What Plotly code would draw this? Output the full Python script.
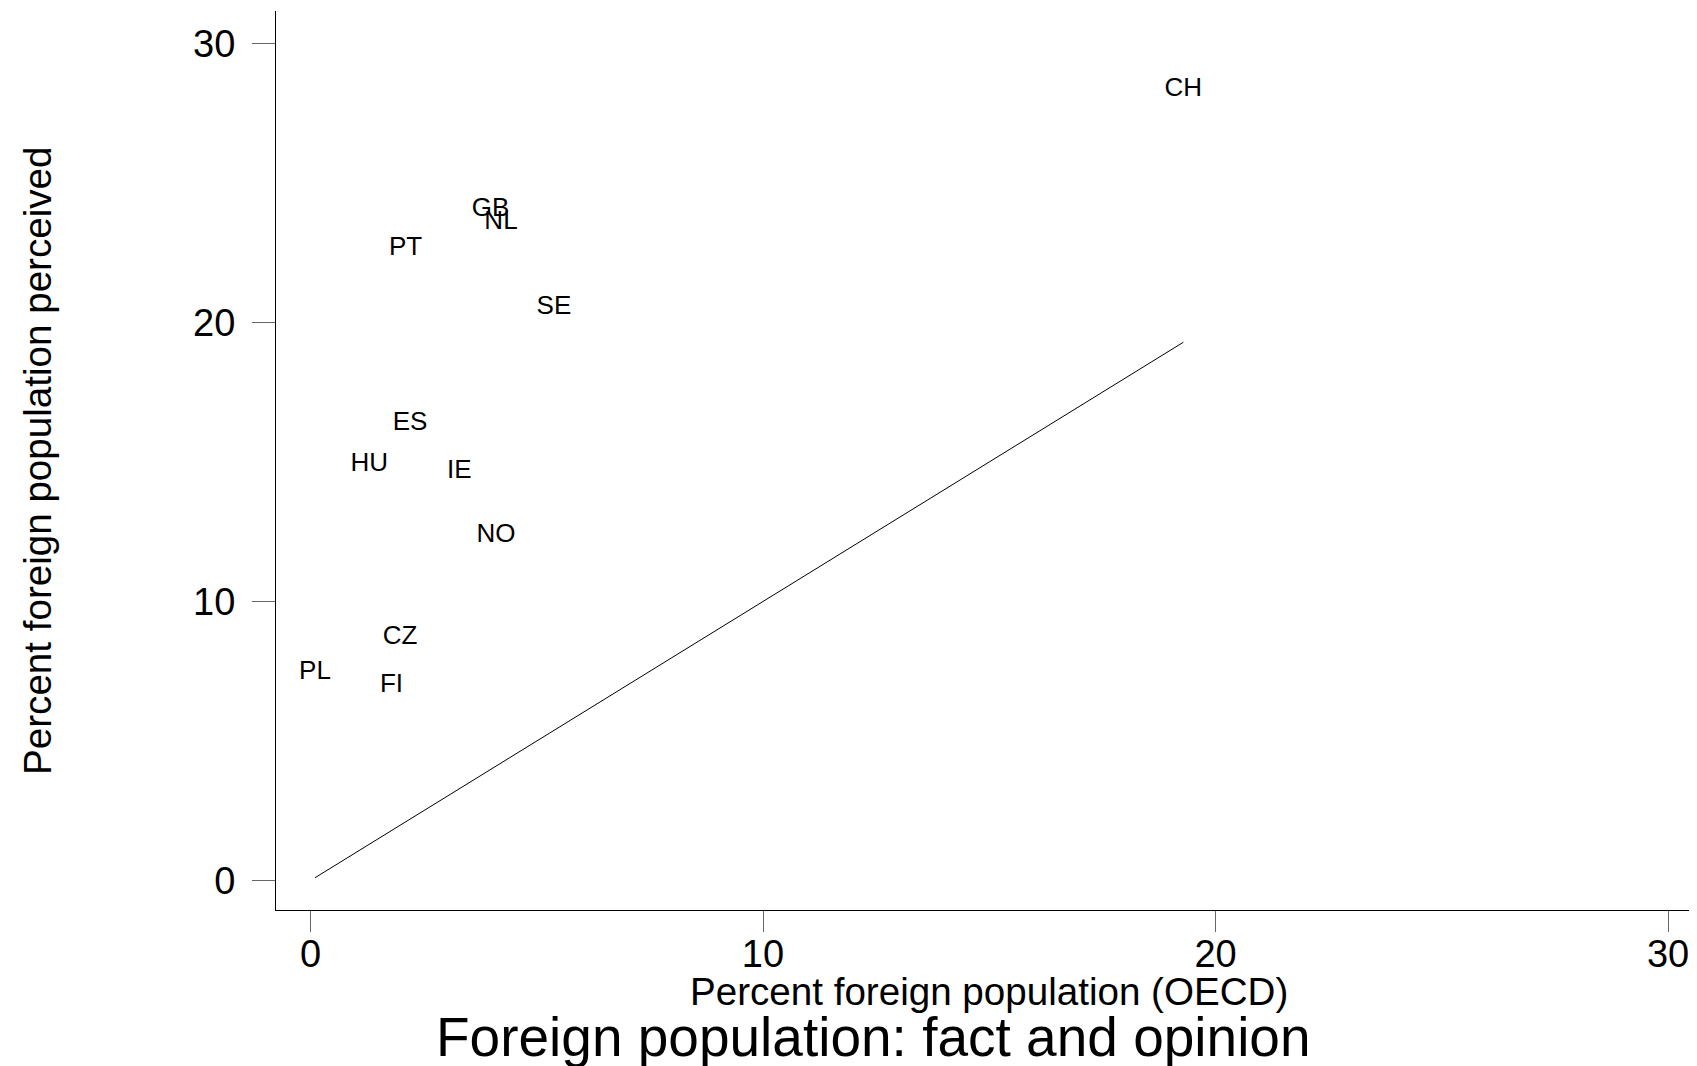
import plotly.graph_objects as go

countries = ["CH", "GB", "NL", "PT", "SE", "ES", "HU", "IE", "NO", "CZ", "PL", "FI"]
oecd_pct = [19.29, 3.98, 4.21, 2.10, 5.38, 2.20, 1.30, 3.29, 4.10, 1.98, 0.10, 1.79]
perceived_pct = [28.33, 24.06, 23.57, 22.64, 20.53, 16.37, 14.92, 14.65, 12.35, 8.70, 7.45, 7.00]
tick_vals = [0, 10, 20, 30]

FONT = "Liberation Sans, Arial, sans-serif"
OFF = 8  # default page body margin
W, H = 1697 - OFF, 1066 - OFF
# plot area in reference window pixels
PX0, PX1, PY0, PY1 = 275.5, 1697, 10.8, 910.5
L = PX0 - OFF
R = (W + OFF) - PX1
T = PY0 - OFF
B = (H + OFF) - PY1
pw, ph = PX1 - PX0, PY1 - PY0

line_x = sorted(oecd_pct)

fig = go.Figure()
fig.add_trace(go.Scatter(
    x=line_x, y=line_x, mode="lines",
    line=dict(color="black", width=1), hoverinfo="skip", showlegend=False,
))
fig.add_trace(go.Scatter(
    x=oecd_pct, y=perceived_pct, mode="text", text=countries,
    textposition="middle center",
    textfont=dict(family=FONT, size=26, color="black"), showlegend=False,
))

def px_to_paper_x(px):
    return (px - PX0) / pw

def px_to_paper_y(py):
    return (PY1 - py) / ph

fig.update_layout(
    width=W, height=H,
    margin=dict(l=L, r=R, t=T, b=B, pad=0),
    paper_bgcolor="white", plot_bgcolor="white",
    font=dict(family=FONT, color="black"),
    xaxis=dict(
        range=[-0.762, 30.64], tickvals=tick_vals, ticktext=[str(v) for v in tick_vals],
        showgrid=False, zeroline=False, showline=True, linecolor="black", linewidth=1,
        ticks="outside", ticklen=21, tickcolor="#666", tickwidth=1,
        tickfont=dict(family=FONT, size=38, color="black"),
        ticklabelstandoff=-11,
    ),
    yaxis=dict(
        range=[-1.056, 31.16], tickvals=tick_vals, ticktext=[str(v) for v in tick_vals],
        showgrid=False, zeroline=False, showline=True, linecolor="black", linewidth=1,
        ticks="outside", ticklen=23, tickcolor="#666", tickwidth=1,
        tickfont=dict(family=FONT, size=38, color="black"),
        ticklabelstandoff=9,
    ),
    annotations=[
        dict(text="Percent foreign population (OECD)", xref="paper", yref="paper",
             x=px_to_paper_x(989), y=px_to_paper_y(991.7), xanchor="center", yanchor="middle",
             showarrow=False, font=dict(family=FONT, size=38.6, color="black")),
        dict(text="Percent foreign population perceived", xref="paper", yref="paper",
             x=px_to_paper_x(37), y=px_to_paper_y(461.5), xanchor="center", yanchor="middle",
             textangle=-90, showarrow=False, font=dict(family=FONT, size=38.6, color="black")),
        dict(text="Foreign population: fact and opinion", xref="paper", yref="paper",
             x=px_to_paper_x(873.5), y=px_to_paper_y(1037.5), xanchor="center", yanchor="middle",
             showarrow=False, font=dict(family=FONT, size=55, color="black")),
    ],
)

fig.write_html("out.html")
